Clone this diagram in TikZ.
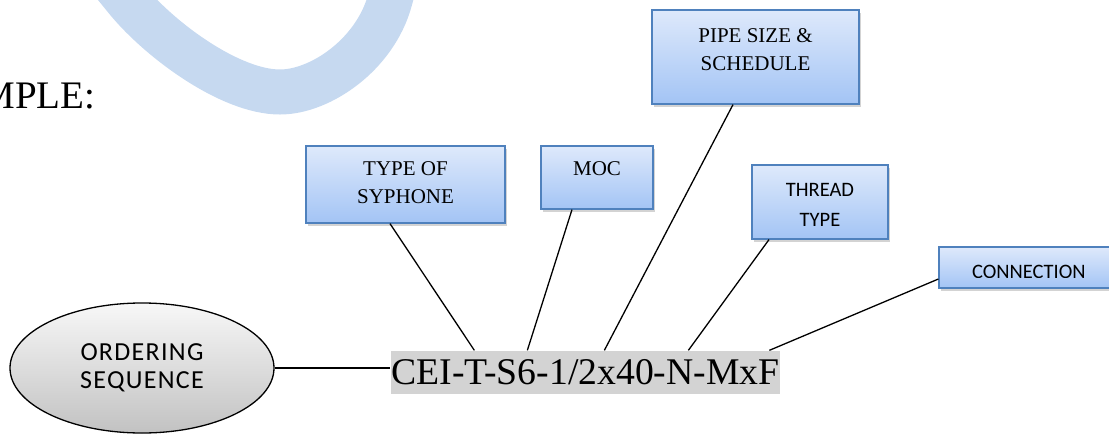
\documentclass[tikz,border=0pt]{standalone}
\usepackage{fontspec}
\setmainfont{Liberation Serif}
\newfontfamily\calibri{Carlito}
\usetikzlibrary{positioning, shapes.geometric, shadows}
\definecolor{ringblue}{HTML}{C6D9F0}
\definecolor{boxtop}{HTML}{DEE9FB}
\definecolor{boxbot}{HTML}{A3C4F5}
\definecolor{boxline}{HTML}{4F81BD}
\definecolor{codegray}{HTML}{D3D3D3}

\begin{document}
\begin{tikzpicture}[
        x=1pt, y=-1pt, line width=1.3pt,
        tagbox/.style={draw=boxline, line width=1.2pt, top color=boxtop, bottom color=boxbot,
          drop shadow={shadow xshift=2pt, shadow yshift=-3pt, opacity=0.35}, inner sep=0pt},
        tagtext/.style={align=center, inner sep=0pt, anchor=north, font=\fontsize{21}{28}\selectfont},
        tagsans/.style={align=center, inner sep=0pt, anchor=north, font=\calibri\fontsize{20.5}{30}\selectfont},
        seq/.style={ellipse, draw, inner sep=0pt, top color=gray!6, bottom color=gray!48,
          minimum width=264pt, minimum height=130pt, align=center,
          font=\calibri\fontsize{26}{28}\selectfont\addfontfeature{LetterSpace=5}},
        ]
        \useasboundingbox (0,0) rectangle (1109,434);
        % watermark ring
        \draw[ringblue, line width=45pt] (101,-32) -- (127,0) .. controls (160,40) and (230,92) .. (280,92)
          .. controls (320,92) and (375,55) .. (390,0) -- (399,-33);
        \node[anchor=base east, inner sep=0pt, font=\fontsize{39}{46}\selectfont] (title) at (96,108) {MPLE:};

        \node[seq] (order) at (142,368) {ORDERING\\SEQUENCE};
        \node[fill=codegray, minimum width=389pt, minimum height=43pt, inner sep=0pt,
          font=\fontsize{37.7}{44}\selectfont] (code) at (585.5,372.5) {CEI-T-S6-1/2x40-N-MxF};

        \node[tagbox, minimum width=199pt, minimum height=77pt] (syph) at (405.5,184.5) {};
        \node[tagtext] (syph_t) at ([yshift=-16pt]syph.north) {TYPE OF\\SYPHONE};
        \node[tagbox, minimum width=112pt, minimum height=63pt] (moc) at (597,177.5) {};
        \node[tagtext] (moc_t) at ([yshift=-16pt]moc.north) {MOC};
        \node[tagbox, minimum width=207pt, minimum height=94pt] (pipe) at (755.5,57) {};
        \node[tagtext] (pipe_t) at ([yshift=-18pt]pipe.north) {PIPE SIZE \&\\SCHEDULE};
        \node[tagbox, minimum width=136pt, minimum height=74pt] (thread) at (820,202) {};
        \node[tagsans] (thread_t) at ([yshift=-18pt]thread.north) {THREAD\\TYPE};
        \node[tagbox, minimum width=186pt, minimum height=41pt] (conn) at (1032,267.5) {};
        \begin{scope}
          \clip (conn.north west) rectangle ([yshift=11pt]conn.south east);
          \node[tagsans, anchor=north west] (conn_t) at ([xshift=33pt, yshift=-18pt]conn.north west) {CONNECTION};
        \end{scope}

        \draw (order.east) -- (order.east -| code.west);
        \draw ([xshift=-15.5pt]syph.south) -- ([xshift=84pt]code.north west);
        \draw ([xshift=-25pt]moc.south) -- ([xshift=137pt]code.north west);
        \draw ([xshift=-22.5pt]pipe.south) -- ([xshift=214pt]code.north west);
        \draw ([xshift=-51pt]thread.south) -- ([xshift=298pt]code.north west);
        \draw ([yshift=-11.5pt]conn.west) -- ([xshift=379pt]code.north west);
      \end{tikzpicture}
\end{document}
